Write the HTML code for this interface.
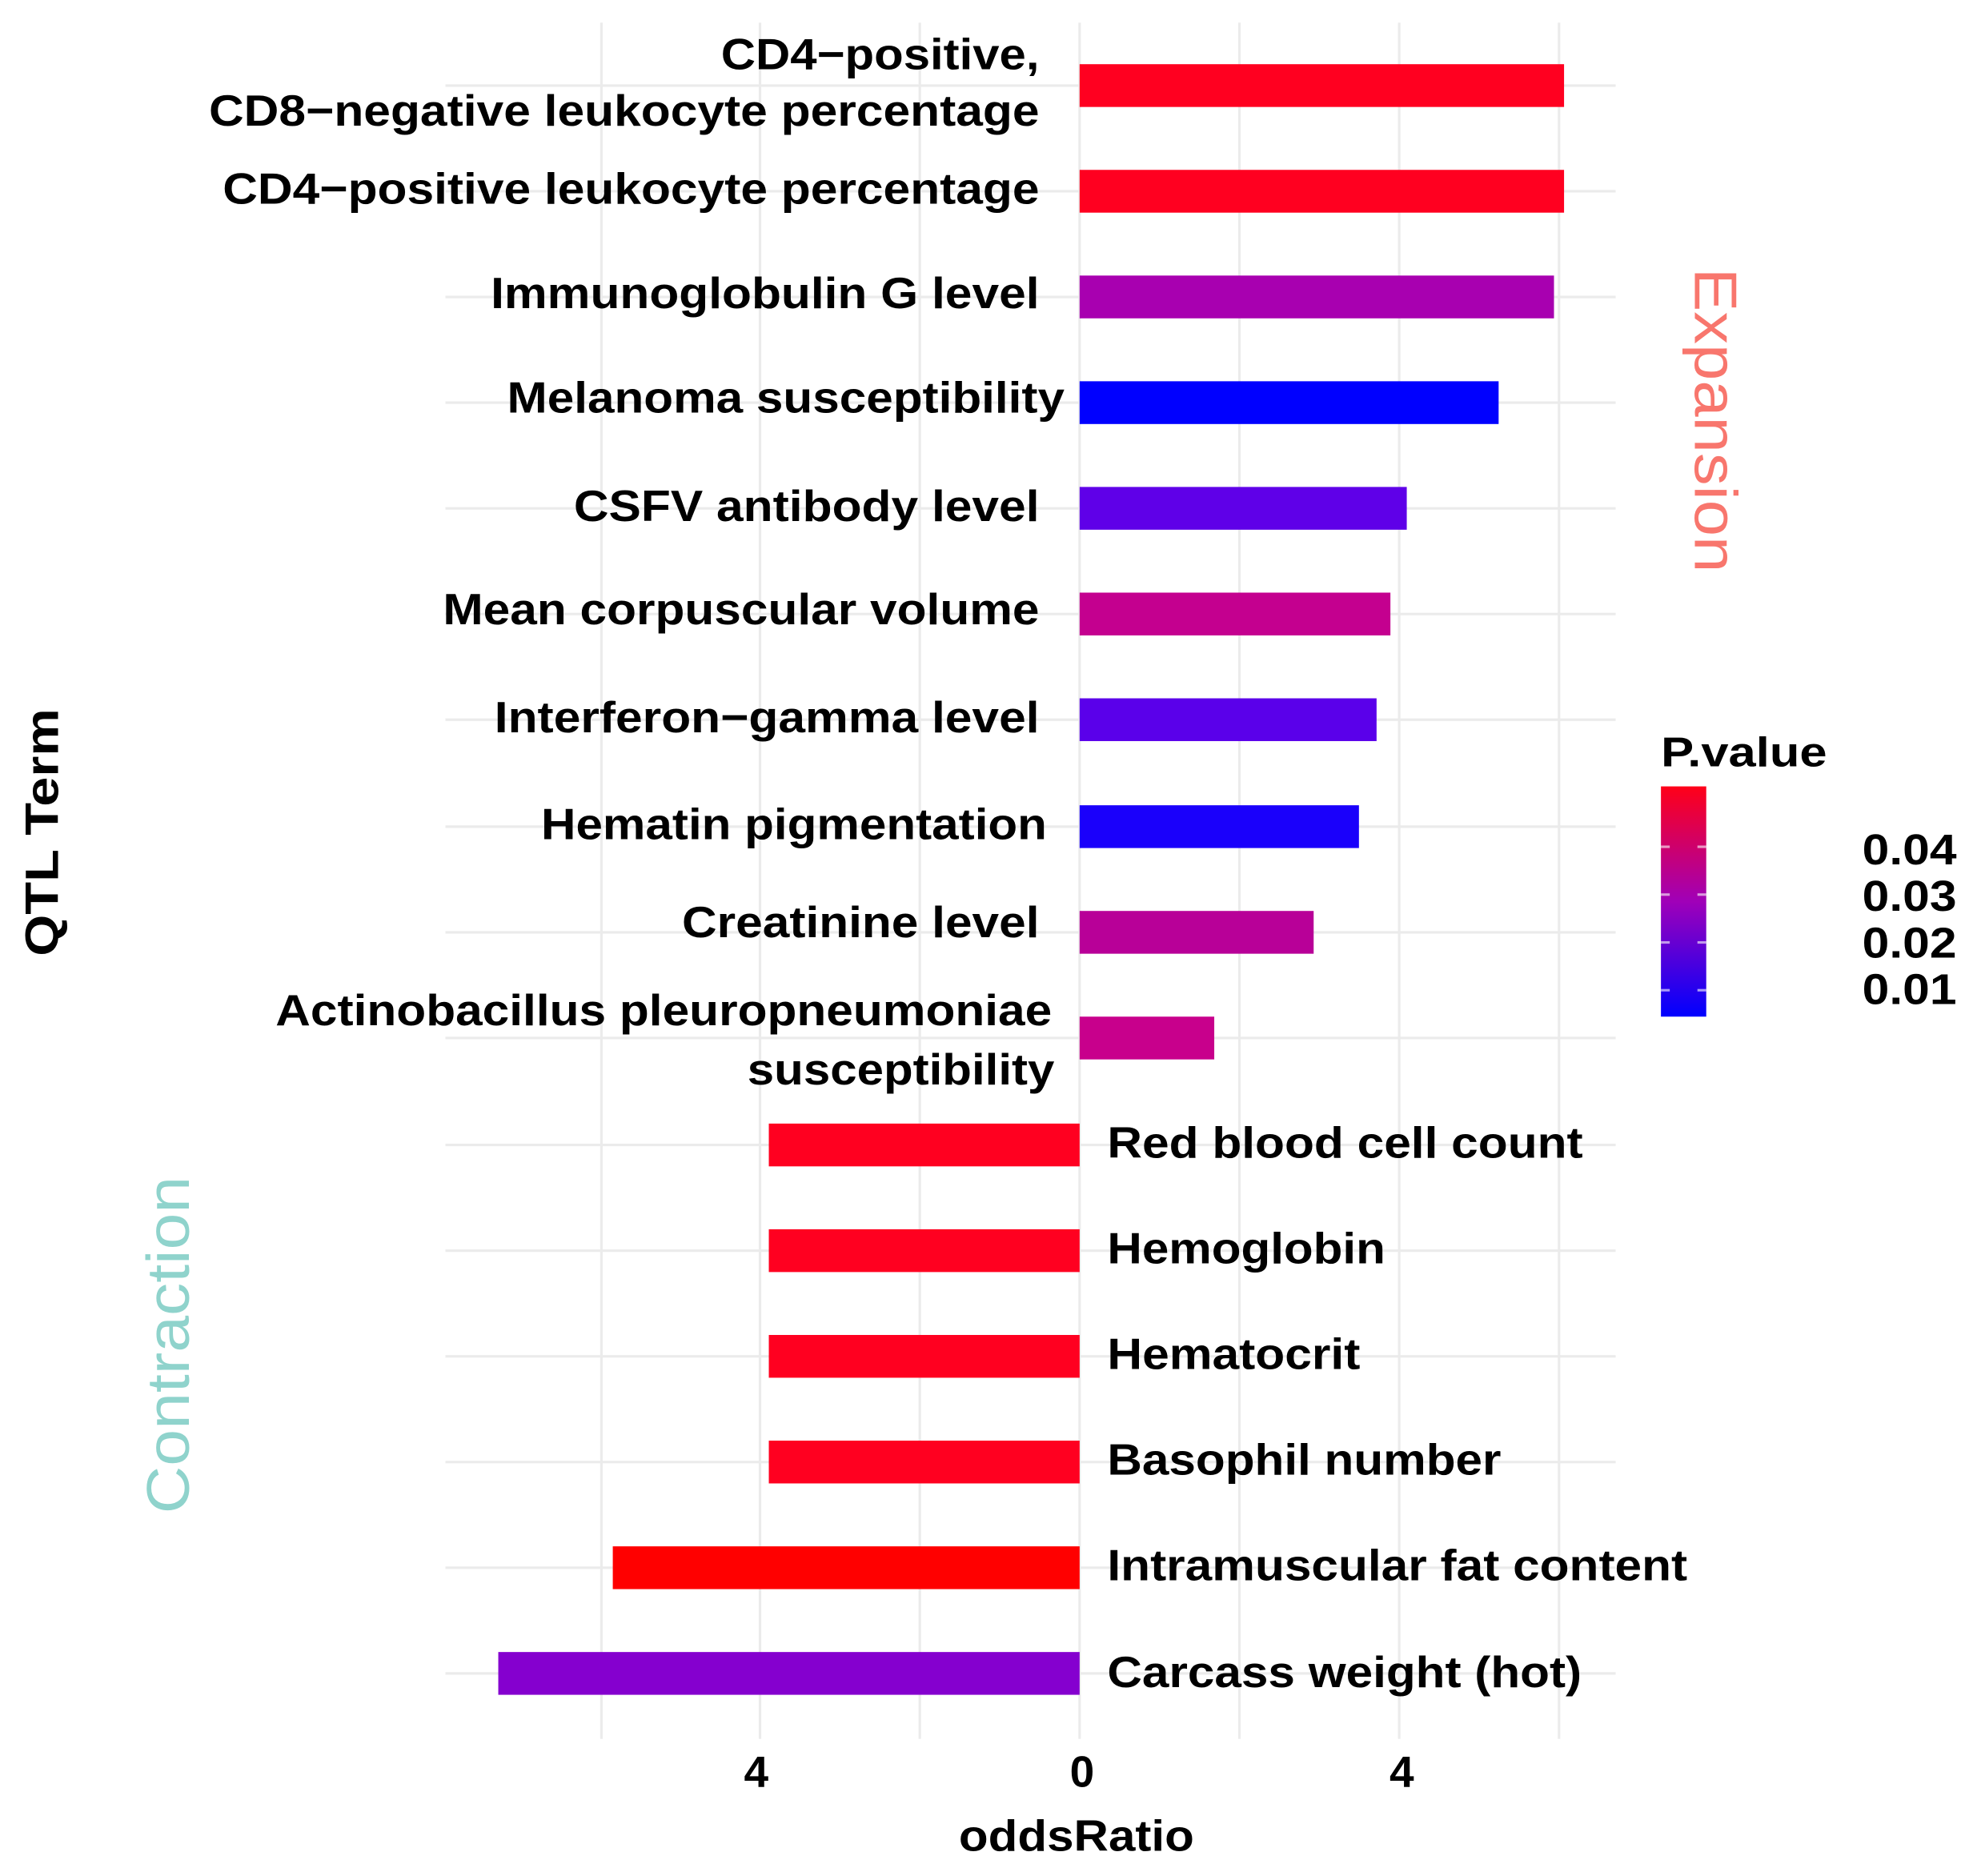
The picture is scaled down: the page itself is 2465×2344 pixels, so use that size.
<!DOCTYPE html>
<html><head><meta charset="utf-8"><style>html,body{margin:0;padding:0;background:#fff}svg{display:block}</style></head>
<body>
<svg width="2465" height="2344" viewBox="0 0 1568 1491" xmlns="http://www.w3.org/2000/svg" font-family="Liberation Sans, Arial, sans-serif">
<defs><linearGradient id="g" x1="0" y1="1" x2="0" y2="0"><stop offset="0" stop-color="#0000ff"/><stop offset="0.5" stop-color="#a000b8"/><stop offset="1" stop-color="#ff0018"/></linearGradient></defs>
<g stroke="#ebebeb" stroke-width="2">
<line x1="478" y1="18" x2="478" y2="1382"/><line x1="604" y1="18" x2="604" y2="1382"/><line x1="731" y1="18" x2="731" y2="1382"/><line x1="858" y1="18" x2="858" y2="1382"/><line x1="985" y1="18" x2="985" y2="1382"/><line x1="1112" y1="18" x2="1112" y2="1382"/><line x1="1239" y1="18" x2="1239" y2="1382"/>
<line x1="354" y1="68" x2="1284" y2="68"/><line x1="354" y1="152" x2="1284" y2="152"/><line x1="354" y1="236" x2="1284" y2="236"/><line x1="354" y1="320" x2="1284" y2="320"/><line x1="354" y1="404" x2="1284" y2="404"/><line x1="354" y1="488" x2="1284" y2="488"/><line x1="354" y1="572" x2="1284" y2="572"/><line x1="354" y1="657" x2="1284" y2="657"/><line x1="354" y1="741" x2="1284" y2="741"/><line x1="354" y1="825" x2="1284" y2="825"/><line x1="354" y1="910" x2="1284" y2="910"/><line x1="354" y1="994" x2="1284" y2="994"/><line x1="354" y1="1078" x2="1284" y2="1078"/><line x1="354" y1="1162" x2="1284" y2="1162"/><line x1="354" y1="1246" x2="1284" y2="1246"/><line x1="354" y1="1330" x2="1284" y2="1330"/>
</g>
<g>
<rect x="858" y="51" width="385" height="34" fill="#ff0020"/>
<rect x="858" y="135" width="385" height="34" fill="#ff0020"/>
<rect x="858" y="219" width="377" height="34" fill="#a800b0"/>
<rect x="858" y="303" width="333" height="34" fill="#0000ff"/>
<rect x="858" y="387" width="260" height="34" fill="#5f00e8"/>
<rect x="858" y="471" width="247" height="34" fill="#c4008f"/>
<rect x="858" y="555" width="236" height="34" fill="#5a00ea"/>
<rect x="858" y="640" width="222" height="34" fill="#1a00fb"/>
<rect x="858" y="724" width="186" height="34" fill="#b80098"/>
<rect x="858" y="808" width="107" height="34" fill="#c8008c"/>
<rect x="611" y="893" width="247" height="34" fill="#ff0020"/>
<rect x="611" y="977" width="247" height="34" fill="#ff0020"/>
<rect x="611" y="1061" width="247" height="34" fill="#ff0020"/>
<rect x="611" y="1145" width="247" height="34" fill="#ff0020"/>
<rect x="487" y="1229" width="371" height="34" fill="#ff0000"/>
<rect x="396" y="1313" width="462" height="34" fill="#8500cf"/>
</g>
<g font-weight="bold" font-size="35" fill="#000" lengthAdjust="spacingAndGlyphs">
<text x="573" y="55" textLength="253" lengthAdjust="spacingAndGlyphs">CD4−positive,</text>
<text x="166" y="100" textLength="660" lengthAdjust="spacingAndGlyphs">CD8−negative leukocyte percentage</text>
<text x="177" y="162" textLength="649" lengthAdjust="spacingAndGlyphs">CD4−positive leukocyte percentage</text>
<text x="390" y="245" textLength="436" lengthAdjust="spacingAndGlyphs">Immunoglobulin G level</text>
<text x="403" y="328" textLength="443" lengthAdjust="spacingAndGlyphs">Melanoma susceptibility</text>
<text x="456" y="414" textLength="370" lengthAdjust="spacingAndGlyphs">CSFV antibody level</text>
<text x="352" y="496" textLength="474" lengthAdjust="spacingAndGlyphs">Mean corpuscular volume</text>
<text x="393" y="582" textLength="433" lengthAdjust="spacingAndGlyphs">Interferon−gamma level</text>
<text x="430" y="667" textLength="402" lengthAdjust="spacingAndGlyphs">Hematin pigmentation</text>
<text x="542" y="745" textLength="284" lengthAdjust="spacingAndGlyphs">Creatinine level</text>
<text x="219" y="815" textLength="617" lengthAdjust="spacingAndGlyphs">Actinobacillus pleuropneumoniae</text>
<text x="594" y="862" textLength="244" lengthAdjust="spacingAndGlyphs">susceptibility</text>
<text x="880" y="920" textLength="378" lengthAdjust="spacingAndGlyphs">Red blood cell count</text>
<text x="880" y="1004" textLength="221" lengthAdjust="spacingAndGlyphs">Hemoglobin</text>
<text x="880" y="1088" textLength="201" lengthAdjust="spacingAndGlyphs">Hematocrit</text>
<text x="880" y="1172" textLength="313" lengthAdjust="spacingAndGlyphs">Basophil number</text>
<text x="880" y="1256" textLength="461" lengthAdjust="spacingAndGlyphs">Intramuscular fat content</text>
<text x="880" y="1341" textLength="377" lengthAdjust="spacingAndGlyphs">Carcass weight (hot)</text>
</g>
<text transform="translate(1347,213) rotate(90)" font-size="48" fill="#f8766d" textLength="242" lengthAdjust="spacingAndGlyphs">Expansion</text>
<text transform="translate(150,1203) rotate(-90)" font-size="48" fill="#8fd3cc" textLength="268" lengthAdjust="spacingAndGlyphs">Contraction</text>
<text transform="translate(46,760) rotate(-90)" font-size="37" font-weight="bold" textLength="197" lengthAdjust="spacingAndGlyphs">QTL Term</text>
<text x="1320" y="609" font-size="33" font-weight="bold" textLength="132" lengthAdjust="spacingAndGlyphs">P.value</text>
<rect x="1320" y="625" width="36" height="183" fill="url(#g)"/>
<g stroke="#fff" stroke-width="2" opacity="0.6"><line x1="1320" y1="673" x2="1327" y2="673"/><line x1="1349" y1="673" x2="1356" y2="673"/><line x1="1320" y1="711" x2="1327" y2="711"/><line x1="1349" y1="711" x2="1356" y2="711"/><line x1="1320" y1="749" x2="1327" y2="749"/><line x1="1349" y1="749" x2="1356" y2="749"/><line x1="1320" y1="787" x2="1327" y2="787"/><line x1="1349" y1="787" x2="1356" y2="787"/></g>
<g font-size="34" font-weight="bold"><text x="1480" y="687" textLength="75" lengthAdjust="spacingAndGlyphs">0.04</text><text x="1480" y="724" textLength="75" lengthAdjust="spacingAndGlyphs">0.03</text><text x="1480" y="761" textLength="75" lengthAdjust="spacingAndGlyphs">0.02</text><text x="1480" y="798" textLength="75" lengthAdjust="spacingAndGlyphs">0.01</text></g>
<g font-size="35" font-weight="bold" text-anchor="middle"><text x="601" y="1420">4</text><text x="860" y="1420">0</text><text x="1114" y="1420">4</text></g>
<text x="762" y="1471" font-size="35" font-weight="bold" textLength="187" lengthAdjust="spacingAndGlyphs">oddsRatio</text>
</svg>
</body></html>
